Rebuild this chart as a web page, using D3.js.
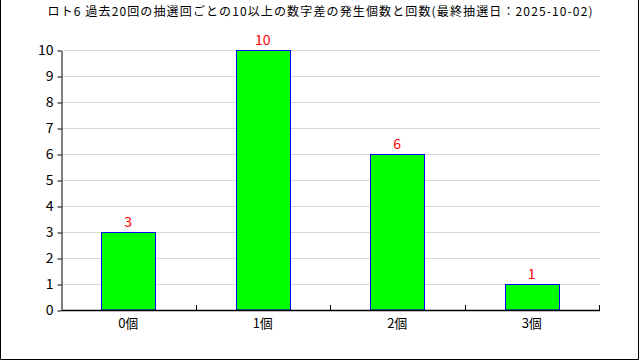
<!DOCTYPE html>
<html>
<head>
<meta charset="utf-8">
<script src="https://cdn.jsdelivr.net/npm/d3@7"></script>
<style>
  body { margin: 0; background: #fff; }
  text { font-family: "Noto Sans CJK JP", "DejaVu Sans Mono", sans-serif; }
</style>
</head>
<body>
<script>
const title = "ロト6 過去20回の抽選回ごとの10以上の数字差の発生個数と回数(最終抽選日：2025-10-02)";
const categories = ["0個", "1個", "2個", "3個"];
const counts = [3, 10, 6, 1];
const yTicks = [0, 1, 2, 3, 4, 5, 6, 7, 8, 9, 10];

const width = 640, height = 360;
const margin = {top: 50, right: 40, bottom: 50, left: 62};

const svg = d3.select("body").append("svg")
    .attr("width", width)
    .attr("height", height);

svg.append("rect")
    .attr("width", width)
    .attr("height", height)
    .attr("fill", "#fff");

// outer frame (no top edge)
svg.append("path")
    .attr("d", "M0.5,0V359.5H638.5V0")
    .attr("fill", "none")
    .attr("stroke", "#000");

svg.append("text")
    .attr("x", 320)
    .attr("y", 16)
    .attr("text-anchor", "middle")
    .attr("font-size", 12)
    .attr("textLength", 545)
    .attr("lengthAdjust", "spacing")
    .text(title);

const x = d3.scaleBand()
    .domain(categories)
    .range([margin.left, width - margin.right])
    .paddingInner(0)
    .paddingOuter(0);

const y = d3.scaleLinear()
    .domain([0, 10])
    .range([height - margin.bottom, margin.top]);

// grid
svg.append("g")
  .selectAll("line")
  .data(yTicks.filter(d => d > 0))
  .join("line")
    .attr("x1", margin.left)
    .attr("x2", width - margin.right)
    .attr("y1", d => Math.round(y(d)) + 0.5)
    .attr("y2", d => Math.round(y(d)) + 0.5)
    .attr("stroke", "#d9d9d9");

// bars
const barW = x.bandwidth() * 0.4;
svg.append("g")
  .selectAll("rect")
  .data(counts)
  .join("rect")
    .attr("x", (d, i) => Math.round(x(categories[i]) + (x.bandwidth() - barW) / 2) - 0.5)
    .attr("y", d => Math.round(y(d)) + 0.5)
    .attr("width", Math.round(barW))
    .attr("height", d => y(0) - Math.round(y(d)) - 0.5)
    .attr("fill", "#00ff00")
    .attr("stroke", "#0000ff");

// value labels
svg.append("g")
  .selectAll("text")
  .data(counts)
  .join("text")
    .attr("x", (d, i) => x(categories[i]) + x.bandwidth() / 2 - 1)
    .attr("y", d => y(d) - 5)
    .attr("text-anchor", "middle")
    .attr("fill", "#ff0000")
    .attr("font-size", 14)
    .text(d => d);

// y axis
const yAxis = svg.append("g")
    .attr("transform", `translate(${margin.left - 0.5},0.5)`)
    .call(d3.axisLeft(y).tickValues(yTicks).tickSize(4).tickSizeOuter(0).tickPadding(4));
yAxis.selectAll("text").attr("font-size", 14).attr("fill", "#000");
yAxis.selectAll("line, path").attr("stroke", "#000");

// x axis with ticks at band edges, pointing up
const xa = svg.append("g");
xa.append("line")
    .attr("x1", margin.left).attr("x2", width - margin.right)
    .attr("y1", y(0) + 0.5).attr("y2", y(0) + 0.5)
    .attr("stroke", "#000").attr("stroke-width", 1.5);
xa.selectAll(".edge")
  .data(categories.slice(1).concat([null]))
  .join("line")
    .attr("class", "edge")
    .attr("x1", (d, i) => Math.round(x(categories[i]) + x.bandwidth()) - 0.5)
    .attr("x2", (d, i) => Math.round(x(categories[i]) + x.bandwidth()) - 0.5)
    .attr("y1", y(0))
    .attr("y2", y(0) - 5)
    .attr("stroke", "#000");
xa.selectAll("text")
  .data(categories)
  .join("text")
    .attr("x", d => x(d) + x.bandwidth() / 2 - 1)
    .attr("y", y(0) + 18)
    .attr("text-anchor", "middle")
    .attr("font-size", 13)
    .text(d => d);
</script>
</body>
</html>
